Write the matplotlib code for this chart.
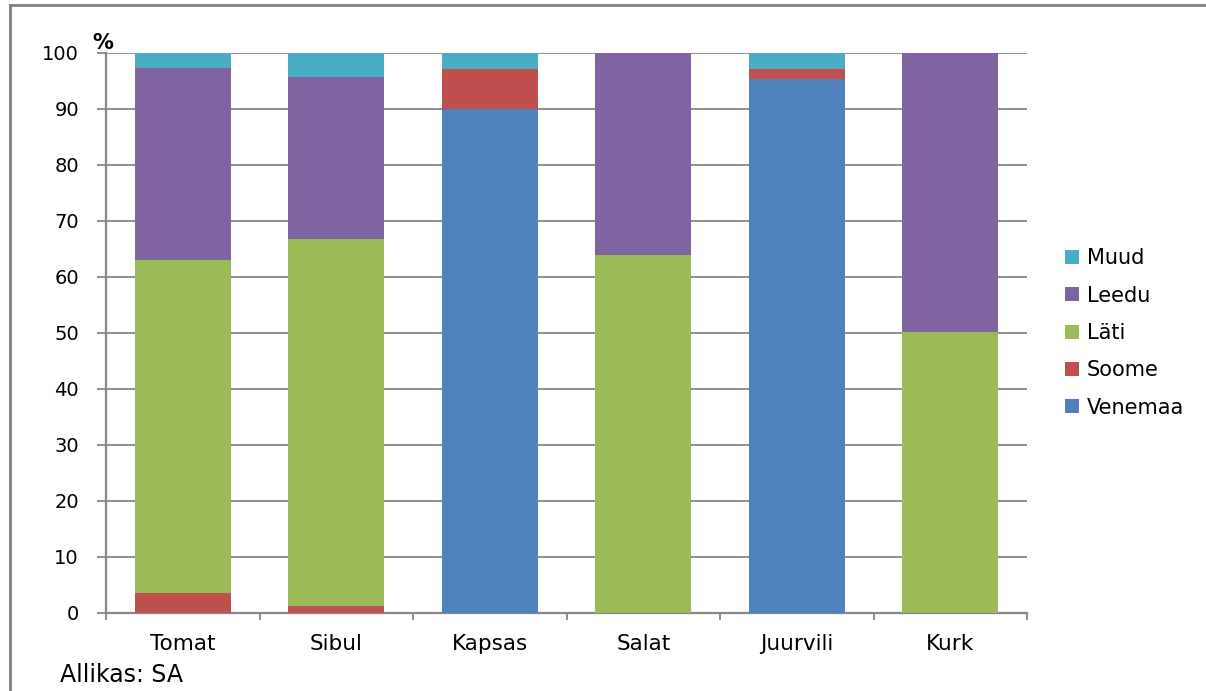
import matplotlib.pyplot as plt
import numpy as np
from matplotlib.lines import Line2D

plt.rcParams['font.family'] = ['DejaVu Sans']

# Data (percent)
categories = ["Tomat", "Sibul", "Kapsas", "Salat", "Juurvili", "Kurk"]
series_names = ["Venemaa", "Soome", "Läti", "Leedu", "Muud"]
venemaa = [0, 0, 90.0, 0, 95.4, 0]
soome = [3.6, 1.2, 7.1, 0, 1.8, 0]
lati = [59.5, 65.6, 0, 63.9, 0, 50.2]
leedu = [34.3, 28.9, 0, 36.1, 0, 49.8]
muud = [2.6, 4.3, 2.9, 0, 2.8, 0]
colors = ["#4F81BD", "#C0504D", "#9BBB59", "#8064A2", "#4BACC6"]
grey = "#878787"

fig = plt.figure(figsize=(12.06, 6.91), dpi=100)
ax = fig.add_axes([0.0879, 0.1129, 0.7637, 0.8104])

x = np.arange(len(categories))
bottom = np.zeros(len(categories))
handles = []
for name, vals, c in zip(series_names, [venemaa, soome, lati, leedu, muud], colors):
    bars = ax.bar(x, vals, width=0.625, bottom=bottom, color=c, label=name, zorder=3)
    bottom += np.array(vals)
    handles.append(bars)

ax.set_xlim(-0.5, len(categories) - 0.5)
ax.set_ylim(0, 100)
ax.set_yticks(np.arange(0, 101, 10))
ax.yaxis.grid(True, color=grey, lw=1.3, zorder=0)
ax.tick_params(axis='y', labelsize=14, length=6.5, color=grey, width=1.3, pad=13)
ax.set_xticks(x)
ax.set_xticklabels(categories, fontsize=15.5)
ax.tick_params(axis='x', length=0, pad=15)
ax.set_xticks(np.arange(-0.5, len(categories)), minor=True)
ax.tick_params(axis='x', which='minor', length=5, color=grey, width=1.3)
for s in ['top', 'right']:
    ax.spines[s].set_visible(False)
for s in ['left', 'bottom']:
    ax.spines[s].set_color(grey)
    ax.spines[s].set_linewidth(1.6)

ax.text(-0.004, 1.0, "%", transform=ax.transAxes, fontsize=15, fontweight='bold',
        ha='center', va='bottom')

leg = ax.legend(handles=handles[::-1], loc='center left', bbox_to_anchor=(1.0326, 0.5),
                borderaxespad=0, frameon=False, fontsize=15, handlelength=0.67,
                handleheight=0.67, handletextpad=0.35, labelspacing=0.83)

fig.text(0.0497, 0.0225, "Allikas: SA", fontsize=17, ha='left', va='center')

# page frame lines
fig.add_artist(Line2D([0.0083, 0.0083], [0, 0.9925], color="#808080", lw=2,
                      transform=fig.transFigure))
fig.add_artist(Line2D([0.0083, 1], [0.9925, 0.9925], color="#808080", lw=2,
                      transform=fig.transFigure))

fig.savefig("out.png", dpi=100)
